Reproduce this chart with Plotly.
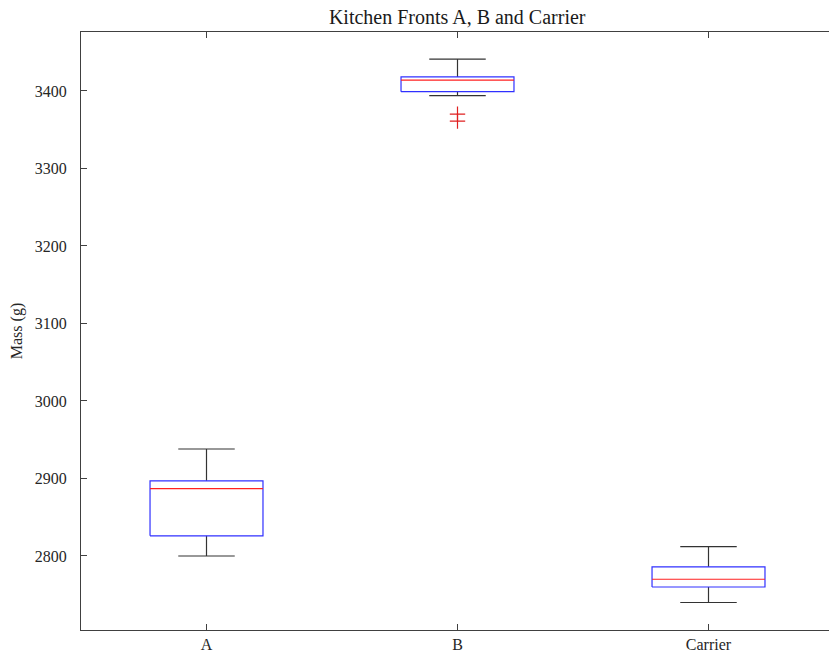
import plotly.graph_objects as go

# Summary statistics per group (mass in grams)
categories = ["A", "B", "Carrier"]
lower_whisker = [2800, 3394, 2740]
q1 = [2826, 3399, 2760]
median = [2887, 3414, 2770]
q3 = [2897, 3418, 2786]
upper_whisker = [2938, 3441, 2812]
outlier_group = ["B", "B"]
outlier_values = [3370, 3361]

positions = list(range(1, len(categories) + 1))
pos_of = dict(zip(categories, positions))

BOX_HALF = 0.225   # half width of each box, in category units
CAP_HALF = 0.1125  # half width of whisker caps

box_x, box_y = [], []
med_x, med_y = [], []
wh_x, wh_y = [], []
for p, lo, a, m, b, hi in zip(positions, lower_whisker, q1, median, q3, upper_whisker):
    box_x += [p - BOX_HALF, p + BOX_HALF, p + BOX_HALF, p - BOX_HALF, p - BOX_HALF, None]
    box_y += [a, a, b, b, a, None]
    med_x += [p - BOX_HALF, p + BOX_HALF, None]
    med_y += [m, m, None]
    # whisker stems and caps
    wh_x += [p, p, None, p, p, None,
             p - CAP_HALF, p + CAP_HALF, None, p - CAP_HALF, p + CAP_HALF, None]
    wh_y += [b, hi, None, a, lo, None,
             hi, hi, None, lo, lo, None]

fig = go.Figure()
fig.add_trace(go.Scatter(x=wh_x, y=wh_y, mode="lines",
                         line=dict(color="#333333", width=1.2), hoverinfo="skip"))
fig.add_trace(go.Scatter(x=box_x, y=box_y, mode="lines",
                         line=dict(color="#3030ff", width=1.2), hoverinfo="skip"))
fig.add_trace(go.Scatter(x=med_x, y=med_y, mode="lines",
                         line=dict(color="#ff2020", width=1.2), hoverinfo="skip"))
fig.add_trace(go.Scatter(x=[pos_of[g] for g in outlier_group], y=outlier_values,
                         mode="markers",
                         marker=dict(symbol="cross-thin", size=11,
                                     line=dict(color="#e02020", width=1.2)),
                         hoverinfo="skip"))

serif = "Liberation Serif, DejaVu Serif, serif"
axis_font = dict(family=serif, size=16, color="#262626")

fig.update_layout(
    width=829, height=660,
    margin=dict(l=81, r=0, t=32, b=30),
    paper_bgcolor="white", plot_bgcolor="white",
    showlegend=False,
    title=dict(text="Kitchen Fronts A, B and Carrier",
               font=dict(family=serif, size=20, color="#1a1a1a"),
               x=0.5515, xanchor="center", xref="container",
               y=1 - 17 / 660, yanchor="middle", yref="container"),
    xaxis=dict(range=[0.5, 0.5 + 748 / 251], tickvals=positions, ticktext=categories,
               showgrid=False, zeroline=False, showline=True, linecolor="#404040",
               linewidth=1.2, mirror="ticks", ticks="inside", ticklen=6, tickwidth=1,
               tickcolor="#404040", tickfont=axis_font),
    yaxis=dict(range=[2704.5, 3476], tickvals=[2800, 2900, 3000, 3100, 3200, 3300, 3400],
               showgrid=False, zeroline=False, showline=True, linecolor="#404040",
               linewidth=1.2, ticks="inside", ticklen=6, tickwidth=1,
               tickcolor="#404040", tickfont=axis_font, ticklabelstandoff=10,
               title=dict(text="Mass (g)", font=axis_font, standoff=8)),
)

fig.write_html("out.html")
